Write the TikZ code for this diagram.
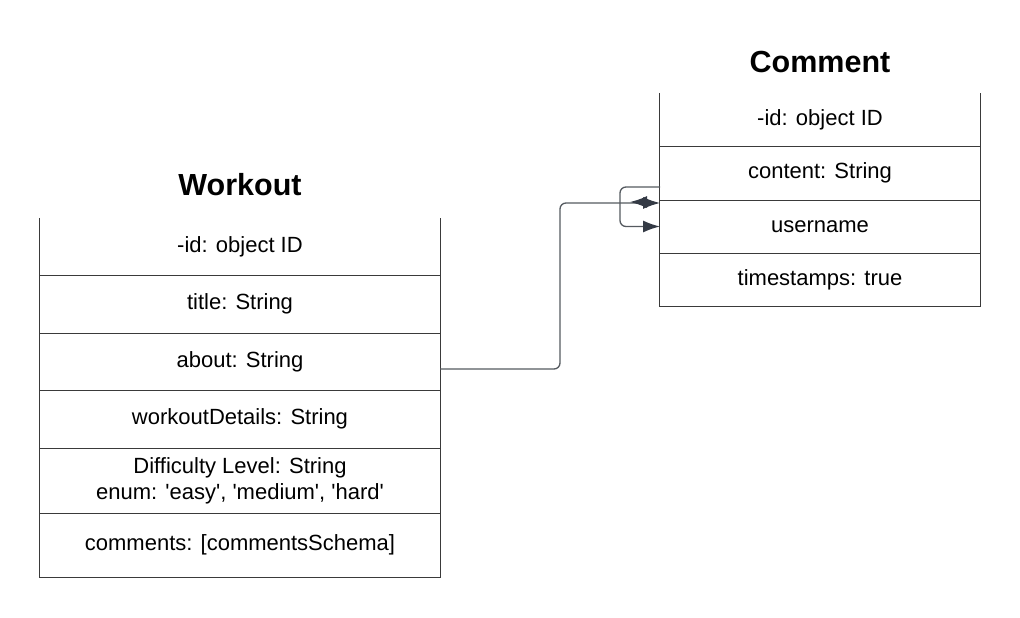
\documentclass[tikz,border=0pt]{standalone}
\usepackage{fontspec}
\setmainfont{Liberation Sans}
\usetikzlibrary{arrows.meta}
\definecolor{framec}{HTML}{3A3A3A}
\definecolor{connc}{HTML}{555A60}
\definecolor{arrowc}{HTML}{343A45}
\newcommand{\sq}{\textquotesingle}
\begin{document}
\begin{tikzpicture}[x=1pt,y=-1pt,
  row/.style={minimum width=400pt, inner sep=0pt, font=\fontsize{22}{26}\selectfont, align=center, text=black},
  crow/.style={row, minimum width=320pt},
  ttl/.style={font=\fontsize{30.5}{36}\selectfont\bfseries, inner sep=0pt},
  frame/.style={draw=framec, line width=1.1pt},
  conn/.style={draw=connc, line width=1.3pt, rounded corners=6pt},
  tipend/.style={-{Latex[length=17pt,width=12pt,color=arrowc]}}]
\useasboundingbox (0,0) rectangle (1020,618);
% Workout
\node[ttl] (wt) at (240,185) {Workout};
\node[row, minimum height=57pt] (w1) at (240,246.5) {-id: object ID};
\node[row, minimum height=58pt] (w2) at (240,304) {title: String};
\node[row, minimum height=57pt] (w3) at (240,361.5) {about: String};
\node[row, minimum height=58pt] (w4) at (240,419) {workoutDetails: String};
\node[row, minimum height=65pt] (w5) at (240,480.5) {Difficulty Level: String\\enum: \sq easy\sq, \sq medium\sq, \sq hard\sq};
\node[row, minimum height=64pt] (w6) at (240,545) {comments: [commentsSchema]};
\draw[frame] (w1.north west) -- (w6.south west) -- (w6.south east) -- (w1.north east);
\foreach \r in {w1,w2,w3,w4,w5}{\draw[frame] (\r.south west) -- (\r.south east);}
% Comment
\node[ttl] (ct) at (820,62) {Comment};
\node[crow, minimum height=53pt] (c1) at (820,119.5) {-id: object ID};
\node[crow, minimum height=54pt] (c2) at (820,173) {content: String};
\node[crow, minimum height=53pt] (c3) at (820,226.5) {username};
\node[crow, minimum height=53pt] (c4) at (820,279.5) {timestamps: true};
\draw[frame] (c1.north west) -- (c4.south west) -- (c4.south east) -- (c1.north east);
\foreach \r in {c1,c2,c3}{\draw[frame] (\r.south west) -- (\r.south east);}
% connectors
\coordinate (a) at (440,369);
\coordinate (cin) at (660,203);
\coordinate (lo) at (660,187);
\coordinate (li) at (660,226.5);
\coordinate (bs) at (646,202);
\coordinate (be) at (630,202);
\draw[conn, tipend] (a) -- ++(120,0) |- (cin);
\draw[conn, tipend] (lo) -- ++(-40,0) |- (li);
\draw[conn, tipend] (bs) -- (be);
\end{tikzpicture}
\end{document}
